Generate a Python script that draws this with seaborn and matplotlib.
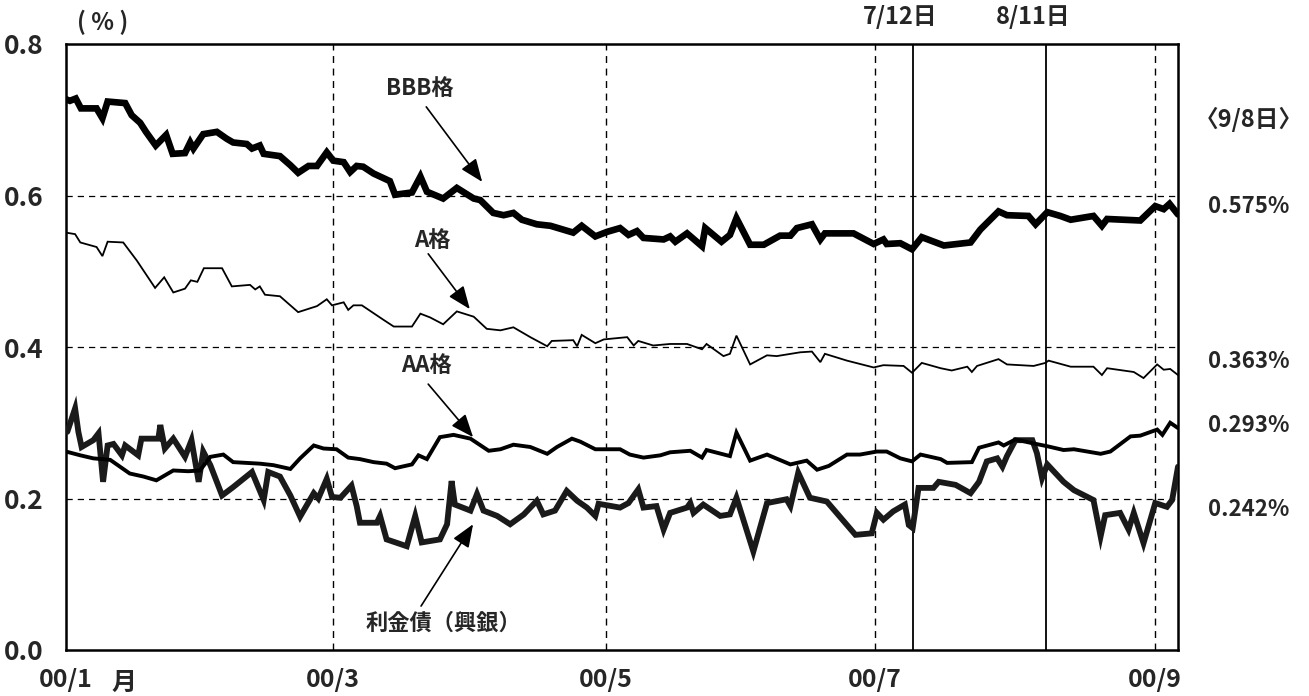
import matplotlib
matplotlib.use("Agg")
import matplotlib.pyplot as plt
import seaborn as sns
import pandas as pd

# ---- data: spread over government bonds (%), by business-day position ----
bbb_x = [0, 0.6, 1.5, 2.3, 4.7, 5.6, 6.4, 9.1, 10.1, 11.4, 12.3, 13.8, 15.4, 16.4, 18.3, 19.1, 19.6,
         21.1, 23.2, 24.7, 25.7, 27.8, 28.6, 29.8, 30.4, 32.9, 34.5, 35.7, 37.3, 38.6, 40.1, 41.1, 42.7,
         43.7, 44.7, 45.7, 47.3, 49.8, 50.6, 53.2, 54.5, 55.5, 58.0, 60.1, 62.7, 63.7, 65.7, 67.3, 68.8,
         70.1, 72.4, 74.5, 78.0, 79.3, 81.4, 83.2, 85.2, 86.5, 87.8, 88.8, 91.9, 92.9, 93.7, 95.5, 97.8,
         98.3, 100.8, 102.1, 103.1, 105.2, 107.3, 109.8, 111.4, 112.4, 114.7, 116.0, 116.7, 121.1, 124.2,
         125.7, 126.2, 128.3, 130.1, 131.6, 135.0, 139.1, 140.6, 143.4, 144.7, 148.0, 149.1, 150.9, 152.9,
         154.5, 158.0, 159.3, 160.1, 165.2, 167.5, 168.8, 169.7, 171]
bbb_y = [0.727, 0.725, 0.728, 0.715, 0.715, 0.702, 0.724, 0.722, 0.706, 0.696, 0.684, 0.666, 0.680,
         0.655, 0.656, 0.670, 0.662, 0.681, 0.684, 0.675, 0.670, 0.668, 0.662, 0.666, 0.655, 0.652, 0.640,
         0.630, 0.639, 0.639, 0.657, 0.646, 0.644, 0.631, 0.639, 0.638, 0.629, 0.619, 0.601, 0.604, 0.625,
         0.605, 0.596, 0.610, 0.596, 0.594, 0.577, 0.574, 0.577, 0.568, 0.562, 0.560, 0.551, 0.560, 0.546,
         0.552, 0.557, 0.548, 0.553, 0.544, 0.542, 0.546, 0.539, 0.550, 0.533, 0.557, 0.539, 0.548, 0.570,
         0.535, 0.535, 0.547, 0.547, 0.557, 0.562, 0.542, 0.550, 0.550, 0.536, 0.542, 0.536, 0.537, 0.529,
         0.545, 0.534, 0.538, 0.555, 0.579, 0.574, 0.573, 0.562, 0.578, 0.573, 0.568, 0.573, 0.560, 0.569,
         0.567, 0.586, 0.582, 0.589, 0.575]

a_x = [0, 1.4, 2.2, 4.7, 5.6, 6.4, 8.8, 10.9, 13.7, 15.1, 16.5, 18.3, 19.2, 20.2, 21.2, 24.0, 25.5, 28.3,
       29.1, 29.8, 30.6, 32.9, 35.7, 38.6, 40.1, 40.9, 42.7, 43.4, 44.2, 45.5, 48.8, 50.4, 53.2, 54.5, 56.0,
       58.0, 60.1, 62.7, 64.7, 66.8, 68.8, 71.4, 74.0, 74.7, 78.0, 78.6, 79.3, 81.4, 82.7, 86.3, 87.3, 88.0,
       90.3, 92.9, 95.5, 97.8, 98.5, 101.1, 102.1, 103.1, 105.2, 107.8, 109.3, 112.9, 114.7, 116.0, 116.7,
       120.1, 124.2, 125.7, 128.8, 130.1, 131.6, 134.5, 136.2, 138.6, 139.3, 140.1, 143.4, 144.7, 148.8,
       150.6, 151.1, 154.5, 158.0, 159.3, 160.1, 164.2, 165.7, 167.8, 168.8, 169.8, 171]
a_y = [0.551, 0.549, 0.538, 0.532, 0.520, 0.539, 0.538, 0.514, 0.478, 0.492, 0.472, 0.477, 0.488, 0.486,
       0.504, 0.504, 0.480, 0.482, 0.476, 0.480, 0.469, 0.467, 0.446, 0.454, 0.463, 0.455, 0.459, 0.449,
       0.455, 0.455, 0.436, 0.427, 0.427, 0.444, 0.439, 0.430, 0.447, 0.440, 0.424, 0.422, 0.426, 0.413,
       0.401, 0.408, 0.409, 0.401, 0.416, 0.405, 0.410, 0.413, 0.402, 0.408, 0.402, 0.404, 0.404, 0.397,
       0.404, 0.388, 0.391, 0.415, 0.377, 0.389, 0.388, 0.393, 0.394, 0.380, 0.391, 0.382, 0.373, 0.376,
       0.375, 0.366, 0.379, 0.372, 0.369, 0.374, 0.367, 0.375, 0.384, 0.377, 0.375, 0.379, 0.382, 0.374,
       0.374, 0.363, 0.372, 0.367, 0.359, 0.377, 0.370, 0.371, 0.363]

aa_x = [0, 2.2, 4.2, 6.8, 9.8, 11.9, 13.9, 16.5, 18.8, 20.6, 22.2, 24.2, 25.7, 29.8, 31.9, 34.5, 36.0,
        38.1, 39.6, 41.6, 43.4, 45.2, 47.3, 49.3, 50.6, 53.2, 54.2, 55.5, 57.5, 59.6, 62.2, 65.0, 66.8, 68.8,
        71.4, 74.0, 75.5, 77.8, 79.1, 81.4, 85.2, 86.7, 88.8, 91.4, 92.9, 96.0, 97.8, 98.5, 102.1, 103.1,
        105.2, 107.8, 111.4, 113.9, 115.5, 117.3, 120.1, 122.1, 124.7, 126.2, 128.3, 130.1, 131.4, 134.5,
        135.5, 139.3, 140.4, 143.4, 144.2, 146.0, 148.6, 150.9, 153.4, 155.0, 159.1, 160.6, 163.7, 165.2,
        167.8, 168.6, 169.8, 171]
aa_y = [0.262, 0.257, 0.253, 0.251, 0.233, 0.229, 0.224, 0.237, 0.236, 0.237, 0.255, 0.258, 0.248, 0.246,
        0.244, 0.239, 0.253, 0.270, 0.266, 0.265, 0.254, 0.252, 0.248, 0.246, 0.240, 0.245, 0.257, 0.252,
        0.281, 0.284, 0.279, 0.263, 0.265, 0.271, 0.268, 0.259, 0.268, 0.279, 0.275, 0.265, 0.265, 0.258,
        0.254, 0.257, 0.261, 0.263, 0.254, 0.264, 0.256, 0.287, 0.250, 0.258, 0.245, 0.250, 0.238, 0.243,
        0.258, 0.258, 0.262, 0.262, 0.253, 0.249, 0.258, 0.252, 0.247, 0.248, 0.267, 0.274, 0.270, 0.278,
        0.273, 0.269, 0.264, 0.265, 0.259, 0.262, 0.282, 0.283, 0.291, 0.284, 0.300, 0.293]

rk_x = [0.2, 1.4, 1.9, 2.4, 4.2, 5.0, 5.7, 6.4, 7.3, 8.6, 9.1, 11.1, 11.6, 14.2, 14.5, 15.2, 16.5, 18.3,
        19.3, 20.4, 21.1, 22.2, 24.0, 25.7, 28.6, 30.4, 31.1, 32.9, 34.5, 36.0, 38.1, 38.8, 40.1, 40.9, 42.2,
        43.9, 44.7, 45.2, 47.8, 48.3, 49.3, 52.4, 53.7, 54.7, 57.5, 58.6, 59.3, 59.8, 62.2, 63.2, 64.2, 66.3,
        68.3, 70.4, 72.4, 73.4, 75.2, 77.0, 78.6, 80.1, 81.4, 81.9, 85.2, 86.5, 88.0, 88.8, 90.8, 91.9, 92.9,
        95.5, 96.0, 96.5, 98.0, 100.6, 102.1, 103.1, 105.7, 107.8, 110.8, 111.4, 112.6, 114.4, 117.0, 119.8,
        121.4, 123.9, 124.7, 125.7, 127.2, 129.0, 129.6, 130.2, 131.1, 133.4, 134.2, 136.8, 139.1, 140.4,
        141.6, 143.2, 144.0, 144.7, 146.0, 148.6, 149.3, 150.1, 150.9, 153.4, 155.0, 158.0, 159.1, 159.8,
        162.1, 163.4, 164.2, 165.7, 167.5, 169.3, 170.1, 171]
rk_y = [0.288, 0.319, 0.288, 0.268, 0.277, 0.286, 0.222, 0.270, 0.272, 0.257, 0.270, 0.257, 0.279, 0.279,
        0.297, 0.266, 0.279, 0.255, 0.277, 0.222, 0.262, 0.244, 0.204, 0.215, 0.235, 0.198, 0.235, 0.229,
        0.204, 0.176, 0.207, 0.200, 0.226, 0.202, 0.201, 0.217, 0.190, 0.168, 0.168, 0.177, 0.146, 0.137,
        0.177, 0.142, 0.146, 0.166, 0.223, 0.192, 0.184, 0.206, 0.184, 0.177, 0.166, 0.179, 0.197, 0.179,
        0.184, 0.210, 0.197, 0.188, 0.177, 0.193, 0.188, 0.194, 0.212, 0.188, 0.190, 0.159, 0.181, 0.188,
        0.194, 0.181, 0.192, 0.177, 0.179, 0.201, 0.130, 0.194, 0.199, 0.190, 0.234, 0.201, 0.196, 0.168,
        0.152, 0.154, 0.181, 0.172, 0.183, 0.192, 0.165, 0.161, 0.214, 0.214, 0.222, 0.218, 0.207, 0.222,
        0.249, 0.253, 0.242, 0.256, 0.277, 0.277, 0.260, 0.227, 0.245, 0.222, 0.211, 0.198, 0.150, 0.178,
        0.181, 0.159, 0.181, 0.141, 0.194, 0.189, 0.198, 0.242]

# axis labels and markers
month_pos = [0, 41.1, 83.0, 124.4, 167.5]
month_labels = ["00/1", "00/3", "00/5", "00/7", "00/9"]
event_pos = [130.2, 150.7]
event_labels = ["7/12日", "8/11日"]
y_ticks = [0.0, 0.2, 0.4, 0.6, 0.8]
latest_label = "〈9/8日〉"
latest_values = ["0.575%", "0.363%", "0.293%", "0.242%"]

# ---- style ----
sns.set_style("white")
plt.rcParams["font.family"] = ["Noto Sans CJK JP", "DejaVu Sans"]
plt.rcParams["font.weight"] = "bold"

fig = plt.figure(figsize=(13.09, 6.96), dpi=100)
W, H = 1309, 696
ax = fig.add_axes([66 / W, 1 - 650 / H, (1178 - 66) / W, (650 - 44) / H])

ax.set_xlim(0, 171)
ax.set_ylim(0, 0.8)

dash = (0, (5, 4))
for v in y_ticks[1:-1]:
    ax.axhline(v, color="black", lw=0.9, ls=dash, zorder=1)
for p in month_pos[1:]:
    ax.axvline(p, color="black", lw=1.0, ls=dash, zorder=1)
for p in event_pos:
    ax.axvline(p, color="black", lw=1.3, zorder=1)

series = [
    (rk_x, rk_y, 4.2, "#1a1a1a"),
    (aa_x, aa_y, 2.8, "black"),
    (a_x, a_y, 1.3, "black"),
    (bbb_x, bbb_y, 4.8, "black"),
]
for xs, ys, lw, col in series:
    df = pd.DataFrame({"x": xs, "y": ys})
    sns.lineplot(data=df, x="x", y="y", ax=ax, color=col, lw=lw, estimator=None,
                 sort=False, solid_joinstyle="miter", zorder=3)

for s in ax.spines.values():
    s.set_visible(True)
    s.set_color("black")
    s.set_linewidth(1.8)

ax.set_xlabel("")
ax.set_ylabel("")
ax.set_yticks(y_ticks, [f"{v:.1f}" for v in y_ticks], fontsize=19)
ax.set_xticks(month_pos, month_labels, fontsize=18)
ax.tick_params(axis="y", length=0, pad=16)
ax.tick_params(axis="x", length=0, pad=13)

ax.text(8.9, -0.043, "月", ha="center", va="center", fontsize=18, clip_on=False)
ax.text(5.7, 0.828, "( % )", ha="center", va="center", fontsize=17, clip_on=False)

for p, lab in zip(event_pos, event_labels):
    ax.text(p - 2.0, 0.836, lab, ha="center", va="center", fontsize=17, clip_on=False)

ax.text(181.9, 0.700, latest_label, ha="center", va="center", fontsize=17, clip_on=False)
for yv, lab in zip([0.585, 0.381, 0.297, 0.186], latest_values):
    ax.text(181.9, yv, lab, ha="center", va="center", fontsize=16, clip_on=False)

# series annotations with arrows
arrow = dict(arrowstyle="-|>,head_length=1.0,head_width=0.4", color="black", lw=1.2,
             mutation_scale=14, shrinkA=0, shrinkB=0)
notes = [
    ("BBB格", (54.4, 0.741), (55.4, 0.717), (64.0, 0.618)),
    ("A格", (56.4, 0.541), (55.7, 0.523), (62.1, 0.450)),
    ("AA格", (55.5, 0.376), (55.7, 0.351), (62.6, 0.281)),
    ("利金債（興銀）", (58.0, 0.035), (54.6, 0.058), (62.6, 0.166)),
]
for text, tpos, tail, tip in notes:
    ax.text(*tpos, text, ha="center", va="center", fontsize=16, zorder=5)
    ax.annotate("", xy=tip, xytext=tail, arrowprops=arrow, zorder=5)

fig.savefig("out.png", dpi=100, facecolor="white")
